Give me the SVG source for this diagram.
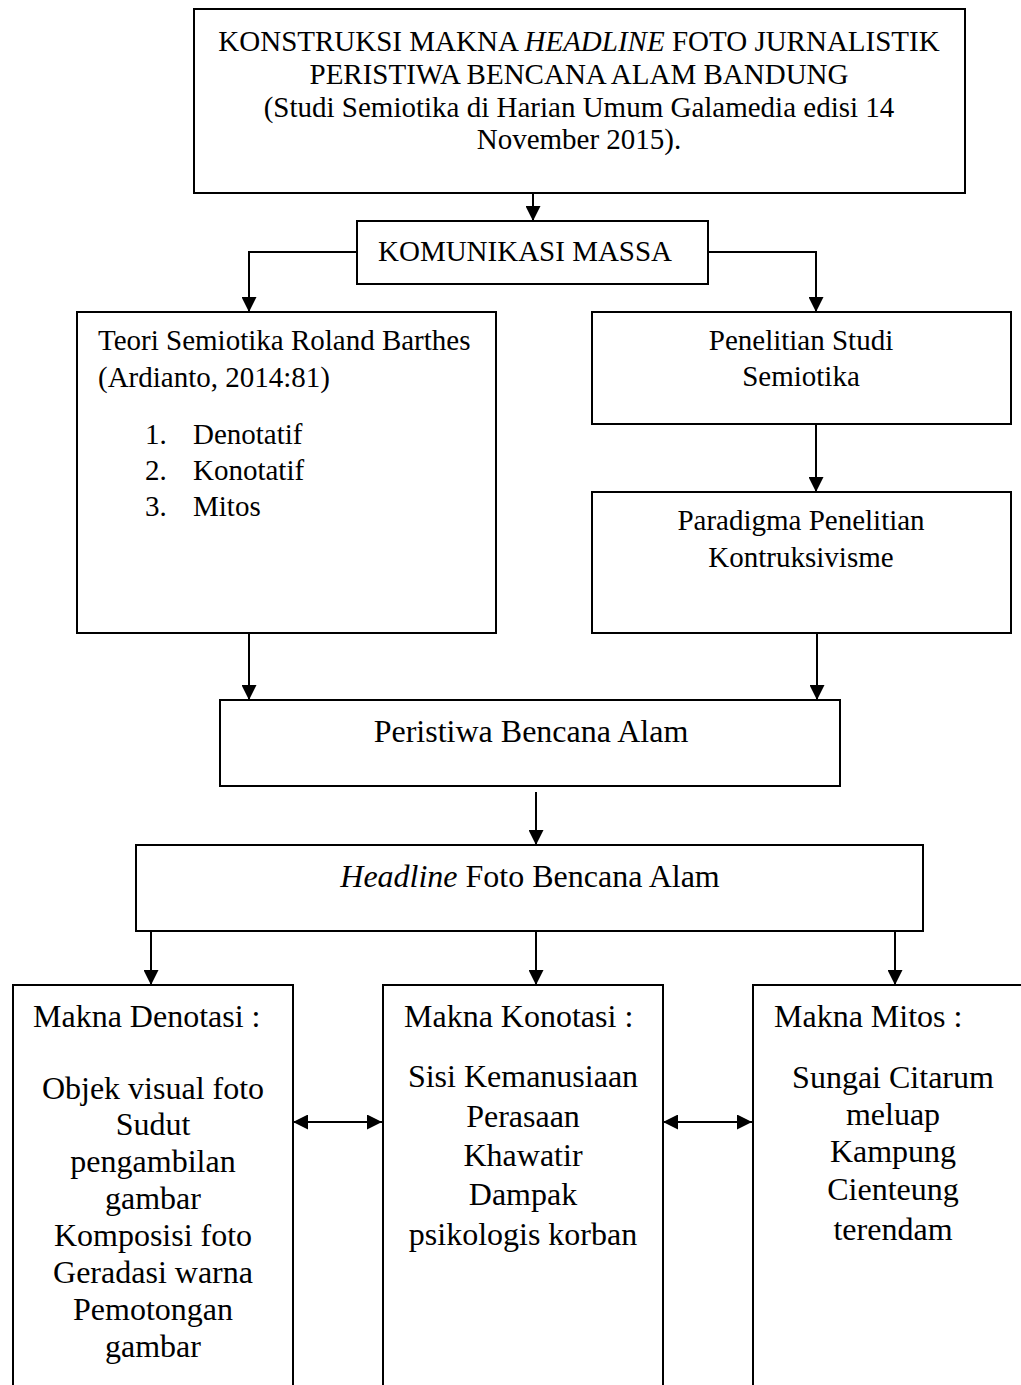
<svg xmlns="http://www.w3.org/2000/svg" width="1021" height="1385" viewBox="0 0 1021 1385">
<defs>
<style>
.box{fill:#fff;stroke:#000;stroke-width:2}
.t{font-family:"Liberation Serif","Times New Roman",serif;fill:#000}
.s29{font-size:29px}
.s32{font-size:32px}
.c{text-anchor:middle}
.conn{fill:none;stroke:#000;stroke-width:2}
</style>
<marker id="ah" markerUnits="userSpaceOnUse" markerWidth="15" markerHeight="15" refX="15" refY="7.5" orient="auto">
<path d="M0,0 L15,7.5 L0,15 z" fill="#000"/>
</marker>
<marker id="ahs" markerUnits="userSpaceOnUse" markerWidth="15" markerHeight="15" refX="15" refY="7.5" orient="auto-start-reverse">
<path d="M0,0 L15,7.5 L0,15 z" fill="#000"/>
</marker>
</defs>
<rect width="1021" height="1385" fill="#fff"/>

<g id="connectors">
<line class="conn" x1="533" y1="193" x2="533" y2="221" marker-end="url(#ah)"/>
<polyline class="conn" points="357,252 249,252 249,312" marker-end="url(#ah)"/>
<polyline class="conn" points="708,252 816,252 816,312" marker-end="url(#ah)"/>
<line class="conn" x1="816" y1="424" x2="816" y2="492" marker-end="url(#ah)"/>
<line class="conn" x1="249" y1="633" x2="249" y2="700" marker-end="url(#ah)"/>
<line class="conn" x1="817" y1="633" x2="817" y2="700" marker-end="url(#ah)"/>
<line class="conn" x1="536" y1="792" x2="536" y2="845" marker-end="url(#ah)"/>
<line class="conn" x1="151" y1="931" x2="151" y2="985" marker-end="url(#ah)"/>
<line class="conn" x1="536" y1="931" x2="536" y2="985" marker-end="url(#ah)"/>
<line class="conn" x1="895" y1="931" x2="895" y2="985" marker-end="url(#ah)"/>
<line class="conn" x1="293" y1="1122" x2="382" y2="1122" marker-start="url(#ahs)" marker-end="url(#ah)"/>
<line class="conn" x1="663" y1="1122" x2="752" y2="1122" marker-start="url(#ahs)" marker-end="url(#ah)"/>
</g>

<g id="title">
<rect class="box" x="194" y="9" width="771" height="184"/>
<text class="t s29 c" x="579" y="51">KONSTRUKSI MAKNA <tspan font-style="italic">HEADLINE</tspan> FOTO JURNALISTIK</text>
<text class="t s29 c" x="579" y="84">PERISTIWA BENCANA ALAM BANDUNG</text>
<text class="t s29 c" x="579" y="117">(Studi Semiotika di Harian Umum Galamedia edisi 14</text>
<text class="t s29 c" x="579" y="149">November 2015).</text>
</g>

<g id="komunikasi">
<rect class="box" x="357" y="221" width="351" height="63"/>
<text class="t s29" x="378" y="261">KOMUNIKASI MASSA</text>
</g>

<g id="teori">
<rect class="box" x="77" y="312" width="419" height="321"/>
<text class="t s29" x="98" y="350">Teori Semiotika Roland Barthes</text>
<text class="t s29" x="98" y="387">(Ardianto, 2014:81)</text>
<text class="t s29" x="145" y="444">1.</text>
<text class="t s29" x="193" y="444">Denotatif</text>
<text class="t s29" x="145" y="480">2.</text>
<text class="t s29" x="193" y="480">Konotatif</text>
<text class="t s29" x="145" y="516">3.</text>
<text class="t s29" x="193" y="516">Mitos</text>
</g>

<g id="penelitian">
<rect class="box" x="592" y="312" width="419" height="112"/>
<text class="t s29 c" x="801" y="350">Penelitian Studi</text>
<text class="t s29 c" x="801" y="386">Semiotika</text>
</g>

<g id="paradigma">
<rect class="box" x="592" y="492" width="419" height="141"/>
<text class="t s29 c" x="801" y="530">Paradigma Penelitian</text>
<text class="t s29 c" x="801" y="567">Kontruksivisme</text>
</g>

<g id="peristiwa">
<rect class="box" x="220" y="700" width="620" height="86"/>
<text class="t s32 c" x="531" y="742">Peristiwa Bencana Alam</text>
</g>

<g id="headline">
<rect class="box" x="136" y="845" width="787" height="86"/>
<text class="t s32 c" x="530" y="887"><tspan font-style="italic">Headline</tspan> Foto Bencana Alam</text>
</g>

<g id="denotasi">
<rect class="box" x="13" y="985" width="280" height="440"/>
<text class="t s32" x="33" y="1027">Makna Denotasi :</text>
<text class="t s32 c" x="153" y="1099">Objek visual foto</text>
<text class="t s32 c" x="153" y="1135">Sudut</text>
<text class="t s32 c" x="153" y="1172">pengambilan</text>
<text class="t s32 c" x="153" y="1209">gambar</text>
<text class="t s32 c" x="153" y="1246">Komposisi foto</text>
<text class="t s32 c" x="153" y="1283">Geradasi warna</text>
<text class="t s32 c" x="153" y="1320">Pemotongan</text>
<text class="t s32 c" x="153" y="1357">gambar</text>
</g>

<g id="konotasi">
<rect class="box" x="383" y="985" width="280" height="440"/>
<text class="t s32" x="404" y="1027">Makna Konotasi :</text>
<text class="t s32 c" x="523" y="1087">Sisi Kemanusiaan</text>
<text class="t s32 c" x="523" y="1127">Perasaan</text>
<text class="t s32 c" x="523" y="1166">Khawatir</text>
<text class="t s32 c" x="523" y="1205">Dampak</text>
<text class="t s32 c" x="523" y="1245">psikologis korban</text>
</g>

<g id="mitos">
<rect class="box" x="753" y="985" width="280" height="440"/>
<text class="t s32" x="774" y="1027">Makna Mitos :</text>
<text class="t s32 c" x="893" y="1088">Sungai Citarum</text>
<text class="t s32 c" x="893" y="1125">meluap</text>
<text class="t s32 c" x="893" y="1162">Kampung</text>
<text class="t s32 c" x="893" y="1200">Cienteung</text>
<text class="t s32 c" x="893" y="1240">terendam</text>
</g>
</svg>
